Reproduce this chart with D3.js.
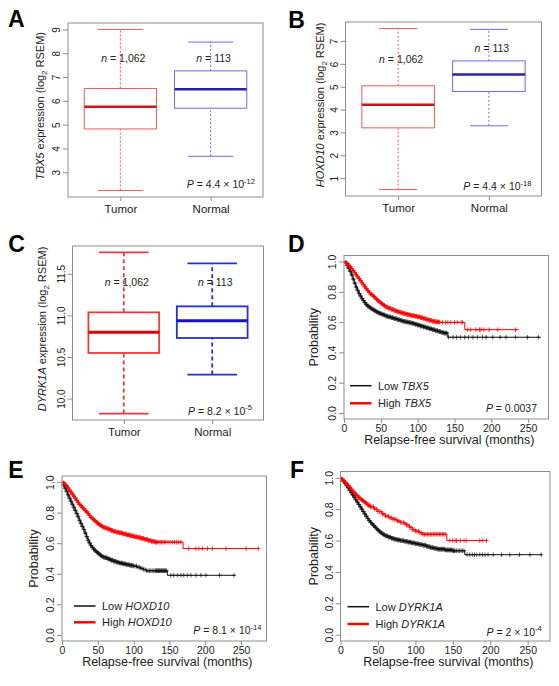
<!DOCTYPE html>
<html><head><meta charset="utf-8">
<script src="https://cdn.jsdelivr.net/npm/d3@7"></script>
<style>
body{margin:0;background:#fff}
svg{display:block;font-family:"Liberation Sans",Arial,Helvetica,sans-serif}
</style>
</head><body>
<svg id="fig" width="559" height="686"></svg>
<script>
// ---------------- DATA ----------------
const groups = ["Tumor", "Normal"];
const nLabels = ["1,062", "113"];
// box statistics per group: [lower whisker, Q1, median, Q3, upper whisker]
const tbx5Box   = [[2.23, 4.82, 5.75, 6.52, 9.00], [3.67, 5.69, 6.49, 7.26, 8.47]];
const hoxd10Box = [[0.50, 3.20, 4.21, 5.04, 7.55], [3.29, 4.79, 5.53, 6.13, 7.51]];
const dyrk1aBox = [[9.82, 10.548, 10.796, 11.036, 11.756], [10.288, 10.728, 10.936, 11.108, 11.624]];
const tbx5Ticks   = [3, 4, 5, 6, 7, 8, 9];
const hoxd10Ticks = [1, 2, 3, 4, 5, 6, 7];
const dyrk1aTicks = ["10.0", "10.5", "11.0", "11.5"];
const tbx5NY   = [7.8, 7.8];
const hoxd10NY = [6.2, 6.7];
const dyrk1aNY = [11.4, 11.4];

// Kaplan-Meier curves: step times (months), survival, last follow-up, censor times
const lowTbx5T = [0,2,4,6,8,10,12,14,16,18,20,22,24,26,28,30,32,34,36,38,40,42,44,46,48,50,52,54,56,58,60,64,68,72,76,80,84,88,92,96,100,104,108,112,116,120,124,128,132,136,141];
const lowTbx5S = [1,0.99,0.973,0.955,0.935,0.912,0.885,0.858,0.832,0.81,0.79,0.772,0.755,0.742,0.728,0.715,0.707,0.699,0.692,0.686,0.68,0.674,0.668,0.663,0.659,0.655,0.651,0.647,0.643,0.639,0.635,0.629,0.623,0.617,0.611,0.605,0.601,0.597,0.592,0.586,0.58,0.574,0.568,0.562,0.556,0.55,0.544,0.538,0.532,0.527,0.50];
const lowTbx5End = 267;
const lowTbx5Cens = [3,4,5,6,7,8,9,10,11,12,13,14,15,16,17,18,19,20,21,22,23,24,25,26,27,28,29,30,31,32,33,34,35,36,37,38,39,40,41,42,43,44,45,46,47,48,49,50,51,52,53,54,55,56,57,58,59,60,61,62,63,64,65,66,67,68,69,70,71,72,73,74,75,76,77,78,79,80,81,82,83,84,85,86,87,88,89,90,91,92,93,94,95,96,97,98,99,100,101,102,103,104,105,106,107,108,109,110,111,112,113,114,115,116,117,118,119,120,121,122,123,124,125,126,127,128,129,130,131,132,133,134,135,136,137,138,139,140,142,148,153,158,164,169,175,181,188,193,202,212,220,233,249,264];
const highTbx5T = [0,2,4,6,8,10,12,14,16,18,20,22,24,26,28,30,32,34,36,38,40,42,44,46,48,50,52,54,56,58,60,64,68,72,76,80,84,88,92,96,100,104,108,112,116,120,125,130,164];
const highTbx5S = [1,0.993,0.987,0.975,0.965,0.953,0.94,0.927,0.913,0.90,0.887,0.873,0.86,0.847,0.833,0.82,0.808,0.796,0.786,0.778,0.77,0.76,0.75,0.741,0.733,0.725,0.718,0.711,0.704,0.698,0.692,0.684,0.676,0.669,0.663,0.657,0.652,0.647,0.643,0.639,0.635,0.629,0.623,0.617,0.611,0.605,0.601,0.598,0.55];
const highTbx5End = 237;
const highTbx5Cens = [2,3,4,5,6,7,8,9,10,11,12,13,14,15,16,17,18,19,20,21,22,23,24,25,26,27,28,29,30,31,32,33,34,35,36,37,38,39,40,41,42,43,44,45,46,47,48,49,50,51,52,53,54,55,56,57,58,59,60,61,62,63,64,65,66,67,68,69,70,71,72,73,74,75,76,77,78,79,80,81,82,83,84,85,86,87,88,89,90,91,92,93,94,95,96,97,98,99,100,101,102,103,104,105,106,107,108,109,110,111,112,113,114,115,116,117,118,119,120,121,122,123,124,125,126,127,128,129,130,134,138,141,145,150,154,159,161,168,172,179,184,186,190,197,209,233];

const lowHoxd10T = [0,2,4,6,8,10,12,14,16,18,20,22,24,26,28,30,32,34,36,38,40,42,44,46,48,50,52,54,56,58,60,64,68,72,76,80,85,90,95,100,105,110,114,118,147];
const lowHoxd10S = [1,0.98,0.96,0.94,0.917,0.895,0.875,0.855,0.835,0.815,0.795,0.774,0.75,0.73,0.71,0.69,0.667,0.643,0.62,0.602,0.585,0.573,0.561,0.551,0.543,0.535,0.527,0.519,0.513,0.509,0.505,0.497,0.489,0.482,0.476,0.47,0.465,0.46,0.455,0.45,0.443,0.435,0.428,0.42,0.39];
const lowHoxd10End = 242;
const lowHoxd10Cens = [2,3,4,5,6,7,8,9,10,11,12,13,14,15,16,17,18,19,20,21,22,23,24,25,26,27,28,29,30,31,32,33,34,35,36,37,38,39,40,41,42,43,44,45,46,47,48,49,50,51,52,53,54,55,56,57,58,59,60,61,62,63,64,65,66,67,68,69,70,71,72,73,74,75,76,77,78,79,80,81,82,83,84,85,86,87,88,89,90,91,92,93,94,95,96,97,98,99,100,102,104,106,108,110,112,114,116,118,120,122,124,126,128,130,131,132,133,134,135,136,137,138,139,140,141,142,143,144,145,146,152,156,161,166,170,175,180,187,194,201,220,240];
const highHoxd10T = [0,2,4,6,8,10,12,14,16,18,20,22,24,26,28,30,32,34,36,38,40,42,44,46,48,50,52,54,56,58,60,64,68,72,76,80,85,90,95,100,105,110,115,120,125,130,169];
const highHoxd10S = [1,0.995,0.985,0.975,0.962,0.948,0.935,0.922,0.908,0.895,0.882,0.868,0.855,0.845,0.835,0.825,0.815,0.805,0.794,0.782,0.77,0.762,0.754,0.746,0.737,0.728,0.721,0.715,0.709,0.704,0.70,0.692,0.684,0.677,0.672,0.668,0.661,0.655,0.649,0.643,0.638,0.632,0.625,0.618,0.612,0.607,0.565];
const highHoxd10End = 274.5;
const highHoxd10Cens = [2,3,4,5,6,7,8,9,10,11,12,13,14,15,16,17,18,19,20,21,22,23,24,25,26,27,28,29,30,31,32,33,34,35,36,37,38,39,40,41,42,43,44,45,46,47,48,49,50,51,52,53,54,55,56,57,58,59,60,61,62,63,64,65,66,67,68,69,70,71,72,73,74,75,76,77,78,79,80,81,82,83,84,85,86,87,88,89,90,91,92,93,94,95,96,97,98,99,100,101,102,103,104,105,106,107,108,109,110,111,112,113,114,115,116,117,118,119,120,121,122,123,124,125,126,127,128,129,130,131,132,133,135,137,139,141,143,145,148,151,154,157,160,163,166,177,187,191,196,203,210,229,257,274];

const lowDyrk1aT = [0,2,4,6,8,10,12,14,16,18,20,22,24,26,28,30,32,34,36,38,40,42,44,46,48,50,52,54,56,58,60,64,68,72,76,80,85,90,95,100,105,110,115,120,125,130,140,150,166];
const lowDyrk1aS = [1,0.988,0.975,0.963,0.95,0.935,0.92,0.905,0.89,0.875,0.86,0.845,0.83,0.815,0.80,0.785,0.77,0.755,0.74,0.727,0.715,0.705,0.695,0.685,0.675,0.665,0.657,0.649,0.642,0.636,0.63,0.622,0.614,0.608,0.604,0.60,0.595,0.59,0.585,0.58,0.575,0.57,0.562,0.555,0.55,0.545,0.54,0.535,0.51];
const lowDyrk1aEnd = 269;
const lowDyrk1aCens = [2,3,4,5,6,7,8,9,10,11,12,13,14,15,16,17,18,19,20,21,22,23,24,25,26,27,28,29,30,31,32,33,34,35,36,37,38,39,40,41,42,43,44,45,46,47,48,49,50,51,52,53,54,55,56,57,58,59,60,61,62,63,64,65,66,67,68,69,70,71,72,73,74,75,76,77,78,79,80,81,82,83,84,85,86,87,88,89,90,91,92,93,94,95,96,97,98,99,100,101,102,103,104,105,106,107,108,109,110,111,112,113,114,115,116,117,118,119,120,121,122,123,124,125,126,127,128,129,130,131,132,133,134,135,136,137,138,139,140,141,142,143,144,145,146,147,148,149,150,151,152,153,155,157,159,161,163,165,169,172.6,176,179,182,186,189.6,193,197,204,215,226,239,253,268];
const highDyrk1aT = [0,2,4,6,8,10,12,14,16,18,20,22,24,26,28,30,32,34,36,38,40,45,50,55,60,65,70,75,80,85,88,92,96,100,105,110,142];
const highDyrk1aS = [1,0.99,0.98,0.97,0.96,0.95,0.94,0.927,0.915,0.905,0.895,0.885,0.875,0.867,0.86,0.852,0.845,0.837,0.83,0.822,0.815,0.80,0.785,0.77,0.755,0.745,0.735,0.725,0.715,0.71,0.70,0.685,0.67,0.66,0.65,0.64,0.60];
const highDyrk1aEnd = 195;
const highDyrk1aCens = [2,3,4,5,6,7,8,9,10,11,12,13,14,15,16,17,18,19,20,21,22,23,24,25,26,27,28,29,30,31,32,33,34,35,36,37,38,39,40,42,44,46,48,50,52,54,56,58,60,62,64,66,68,70,72,74,76,78,80,82,84,86,88,90,92,94,96,98,100,102,104,106,108,110,112,114,116,118,120,122,124,126,128,130,132,134,136,138,140,146,150,153,155,160,165,168,186,190,195];

const monthTicks = [0, 50, 100, 150, 200, 250];
const probTicks = ["0.0", "0.2", "0.4", "0.6", "0.8", "1.0"];

// ---------------- DRAWING ----------------
const svg = d3.select("#fig");
const FRAME = "#8c8c8c";
const TXT = "#222";

function richText(parent, x, y, parts, size, anchor, rotate) {
  const t = parent.append("text")
    .attr("font-size", size).attr("fill", TXT)
    .attr("text-anchor", anchor || "start");
  if (rotate) t.attr("transform", `translate(${x},${y}) rotate(-90)`);
  else t.attr("x", x).attr("y", y);
  let cur = 0;
  parts.forEach(p => {
    const target = p.sub ? 3 : (p.sup ? -4.5 : 0);
    const ts = t.append("tspan").text(p.t).attr("dy", target - cur);
    if (p.it) ts.attr("font-style", "italic");
    if (p.sub || p.sup) ts.attr("font-size", size * 0.72);
    cur = target;
  });
  return t;
}

function letter(x, y, s) {
  svg.append("text").attr("x", x).attr("y", y).attr("font-size", 23)
    .attr("font-weight", "bold").attr("fill", "#000").text(s);
}

function styleAxis(g) {
  g.select(".domain").remove();
  g.selectAll(".tick line").attr("stroke", FRAME);
  g.selectAll(".tick text").attr("fill", TXT);
  g.attr("font-family", null);
}

function boxPanel(cfg, stats, ticks, nY) {
  const {L, T, R, B} = cfg;
  const g = svg.append("g");
  const lo = d3.min(stats, d => d[0]), hi = d3.max(stats, d => d[4]);
  const pad = (hi - lo) * 0.04;
  const y = d3.scaleLinear().domain([lo - pad, hi + pad]).range([B, T]);
  const x = d3.scaleLinear().domain([0.42, 2.58]).range([L, R]);
  const col = [cfg.tumor, cfg.normal];
  const lw = cfg.lw;
  stats.forEach((s, i) => {
    const c = x(i + 1);
    const half = x(0.4) - x(0);
    const cap = x(cfg.cap) - x(0);
    const gg = g.append("g").attr("stroke", col[i].line).attr("fill", "none");
    gg.append("line").attr("x1", c).attr("x2", c).attr("y1", y(s[0])).attr("y2", y(s[1]))
      .attr("stroke-width", lw).attr("stroke-dasharray", cfg.dash);
    gg.append("line").attr("x1", c).attr("x2", c).attr("y1", y(s[3])).attr("y2", y(s[4]))
      .attr("stroke-width", lw).attr("stroke-dasharray", cfg.dash);
    [s[0], s[4]].forEach(v => gg.append("line").attr("x1", c - cap).attr("x2", c + cap)
      .attr("y1", y(v)).attr("y2", y(v)).attr("stroke-width", lw));
    gg.append("rect").attr("x", c - half).attr("y", y(s[3])).attr("width", 2 * half)
      .attr("height", y(s[1]) - y(s[3])).attr("stroke-width", lw);
    gg.append("line").attr("x1", c - half).attr("x2", c + half).attr("y1", y(s[2])).attr("y2", y(s[2]))
      .attr("stroke", col[i].med).attr("stroke-width", cfg.medW);
    richText(g, c + 3, y(nY[i]) + 4, [{t: "n", it: true}, {t: " = " + nLabels[i]}], 10.5, "middle");
  });
  g.append("rect").attr("x", L).attr("y", T).attr("width", R - L).attr("height", B - T)
    .attr("fill", "none").attr("stroke", FRAME);
  const ya = g.append("g").attr("transform", `translate(${L},0)`)
    .call(d3.axisLeft(y).tickValues(ticks.map(Number)).tickSize(5)
      .tickFormat((d, i) => String(ticks[i])));
  styleAxis(ya);
  ya.selectAll(".tick text").attr("x", null).attr("dy", null).attr("text-anchor", "middle")
    .attr("font-size", 10).attr("transform", "translate(-8,0) rotate(-90)");
  const xa = g.append("g").attr("transform", `translate(0,${B})`)
    .call(d3.axisBottom(x).tickValues([1, 2]).tickSize(4).tickFormat((d, i) => groups[i]));
  styleAxis(xa);
  xa.selectAll(".tick text").attr("y", 16).attr("dy", null).attr("font-size", 11.5);
  richText(g, cfg.ylx, (T + B) / 2 - 4,
    [{t: cfg.gene, it: true}, {t: " expression (log"}, {t: "2", sub: true}, {t: " RSEM)"}], 11, "middle", true);
  const pParts = [{t: "P", it: true}, {t: " = " + cfg.pm + " \u00d7 10"}, {t: cfg.pe, sup: true}];
  richText(g, R - cfg.pdx, B - cfg.pdy, pParts, 10.5, "end");
}

function kmPanel(cfg, curves) {
  const {L, T, R, B} = cfg;
  const g = svg.append("g");
  const tmax = d3.max(curves, c => c.end);
  const x = d3.scaleLinear().domain([0, tmax * 1.04]).range([L, R]);
  const y = d3.scaleLinear().domain([-0.04, 1.04]).range([B, T]);
  const line = d3.line().x(d => x(d[0])).y(d => y(d[1])).curve(d3.curveStepAfter);
  curves.forEach(c => {
    const pts = c.T.map((t, i) => [t, c.S[i]]);
    pts.push([c.end, c.S[c.S.length - 1]]);
    g.append("path").attr("d", line(pts)).attr("fill", "none")
      .attr("stroke", c.color).attr("stroke-width", 1);
    const mk = c.cens.map(t => {
      const i = Math.max(0, d3.bisectRight(c.T, t) - 1);
      const px = x(t), py = y(c.S[i]);
      return `M${px - 2},${py}h4M${px},${py - 2.3}v4.6`;
    }).join("");
    g.append("path").attr("d", mk).attr("fill", "none").attr("stroke", c.color)
      .attr("stroke-width", 0.9).attr("stroke-opacity", c.markOp);
  });
  g.append("rect").attr("x", L).attr("y", T).attr("width", R - L).attr("height", B - T)
    .attr("fill", "none").attr("stroke", FRAME);
  const ya = g.append("g").attr("transform", `translate(${L},0)`)
    .call(d3.axisLeft(y).tickValues(probTicks.map(Number)).tickSize(5)
      .tickFormat((d, i) => probTicks[i]));
  styleAxis(ya);
  ya.selectAll(".tick text").attr("x", null).attr("dy", null).attr("text-anchor", "middle")
    .attr("font-size", 10.5).attr("transform", "translate(-8,0) rotate(-90)");
  const xa = g.append("g").attr("transform", `translate(0,${B})`)
    .call(d3.axisBottom(x).tickValues(monthTicks).tickSize(4));
  styleAxis(xa);
  xa.selectAll(".tick text").attr("y", 13).attr("dy", null).attr("font-size", 10.5);
  g.append("text").attr("x", (L + R) / 2 + 3).attr("y", B + 25).attr("text-anchor", "middle")
    .attr("font-size", 12.5).attr("fill", TXT).text("Relapse-free survival (months)");
  g.append("text").attr("transform", `translate(${cfg.plx},${(T + B) / 2})rotate(-90)`)
    .attr("text-anchor", "middle").attr("font-size", 12.5).attr("fill", TXT).text("Probability");
  curves.forEach((c, i) => {
    const ly = B - (i === 0 ? cfg.leg1 : cfg.leg2);
    g.append("line").attr("x1", L + cfg.lgx).attr("x2", L + cfg.lgx + 21.5)
      .attr("y1", ly).attr("y2", ly).attr("stroke", c.color).attr("stroke-width", i === 0 ? 1.5 : 2.5);
    richText(g, L + cfg.lgx + 28, ly + 4, [{t: c.label + " "}, {t: cfg.gene, it: true}], 11, "start");
  });
  richText(g, R - cfg.pdx, B - cfg.pdy, cfg.pParts, 10.5, "end");
}

const redBox  = {line: "#f05a5a", med: "#d01414"};
const blueBox = {line: "#6b6bf0", med: "#2626a6"};

boxPanel({L: 68, T: 23, R: 263, B: 197, tumor: redBox, normal: blueBox, lw: 1, medW: 2.5,
  dash: "2,2", cap: 0.25, gene: "TBX5", ylx: 44, pm: "4.4", pe: "-12", pdx: 8, pdy: 9},
  tbx5Box, tbx5Ticks, tbx5NY);
boxPanel({L: 345.5, T: 22, R: 541.5, B: 196, tumor: redBox, normal: blueBox, lw: 1, medW: 2.5,
  dash: "2,2", cap: 0.21, gene: "HOXD10", ylx: 324, pm: "4.4", pe: "-18", pdx: 10, pdy: 6},
  hoxd10Box, hoxd10Ticks, hoxd10NY);
boxPanel({L: 72.5, T: 246, R: 263.5, B: 420,
  tumor: {line: "#ec3a3a", med: "#dd0000"}, normal: {line: "#2a2ae0", med: "#1414c4"},
  lw: 1.8, medW: 3, dash: "4,3", cap: 0.28, gene: "DYRK1A", ylx: 45.5, pm: "8.2", pe: "-5", pdx: 11.5, pdy: 5.5},
  dyrk1aBox, dyrk1aTicks, dyrk1aNY);

kmPanel({L: 344, T: 255.5, R: 548.5, B: 419, plx: 318, gene: "TBX5", lgx: 6, leg1: 33.3, leg2: 15.7,
  pdx: 11.5, pdy: 7, pParts: [{t: "P", it: true}, {t: " = 0.0037"}]},
  [{T: lowTbx5T, S: lowTbx5S, end: lowTbx5End, cens: lowTbx5Cens, color: "#111", markOp: 0.75, label: "Low"},
   {T: highTbx5T, S: highTbx5S, end: highTbx5End, cens: highTbx5Cens, color: "#ff0000", markOp: 0.85, label: "High"}]);
kmPanel({L: 62, T: 476, R: 266.5, B: 641, plx: 37.5, gene: "HOXD10", lgx: 12, leg1: 35, leg2: 18.7,
  pdx: 5, pdy: 7, pParts: [{t: "P", it: true}, {t: " = 8.1 \u00d7 10"}, {t: "-14", sup: true}]},
  [{T: lowHoxd10T, S: lowHoxd10S, end: lowHoxd10End, cens: lowHoxd10Cens, color: "#111", markOp: 0.75, label: "Low"},
   {T: highHoxd10T, S: highHoxd10S, end: highHoxd10End, cens: highHoxd10Cens, color: "#ff0000", markOp: 0.85, label: "High"}]);
kmPanel({L: 340.5, T: 471.5, R: 550, B: 641, plx: 317.5, gene: "DYRK1A", lgx: 7, leg1: 34.3, leg2: 17,
  pdx: 8.3, pdy: 5.5, pParts: [{t: "P", it: true}, {t: " = 2 \u00d7 10"}, {t: "-4", sup: true}]},
  [{T: lowDyrk1aT, S: lowDyrk1aS, end: lowDyrk1aEnd, cens: lowDyrk1aCens, color: "#111", markOp: 0.75, label: "Low"},
   {T: highDyrk1aT, S: highDyrk1aS, end: highDyrk1aEnd, cens: highDyrk1aCens, color: "#ff0000", markOp: 0.85, label: "High"}]);

letter(8, 27.3, "A");
letter(288.3, 28.3, "B");
letter(8.3, 252, "C");
letter(288, 252, "D");
letter(8.3, 478, "E");
letter(290, 478, "F");
</script>
</body></html>
